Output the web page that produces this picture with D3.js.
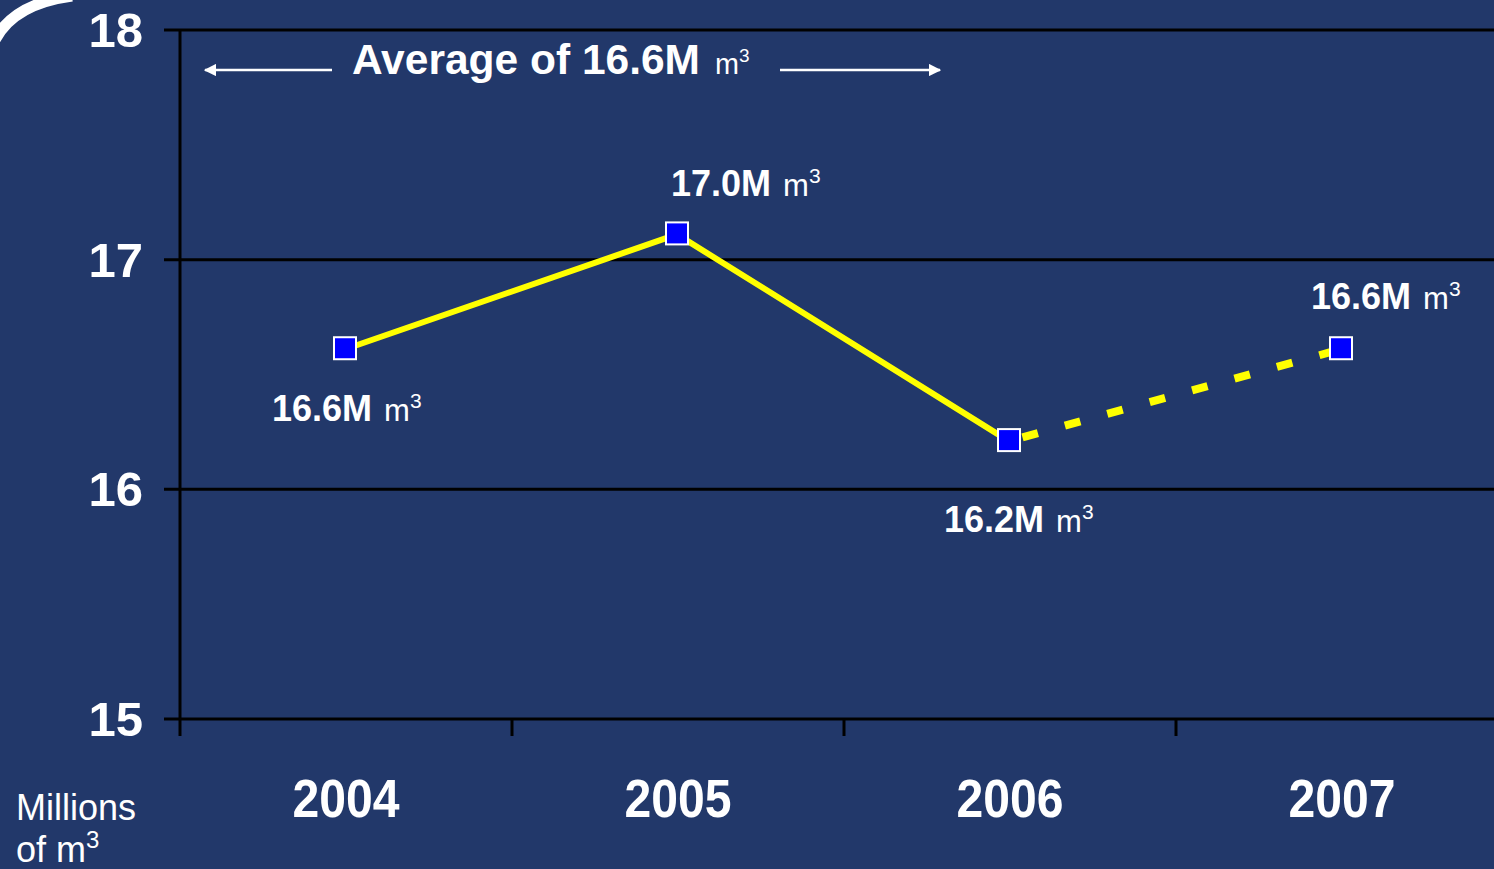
<!DOCTYPE html>
<html>
<head>
<meta charset="utf-8">
<script src="https://cdn.jsdelivr.net/npm/d3@7"></script>
<style>
html,body{margin:0;padding:0;background:#22386a;}
svg{display:block;}
text{fill:#fff;}
</style>
</head>
<body>
<svg id="chart" width="1494" height="869"></svg>
<script>
const years = ["2004", "2005", "2006", "2007"];
const values = [16.61, 17.11, 16.21, 16.61];
const valueLabels = ["16.6M", "17.0M", "16.2M", "16.6M"];
const yTicks = [15, 16, 17, 18];
const averageLabel = "Average of 16.6M";
const unitLabel = "m";

// label placement relative to each point (style, not data)
const labelOffsets = [[-73, 72], [-6, -38], [-65, 91], [-30, -40]];

const W = 1494, H = 869;
const svg = d3.select("#chart");
svg.append("rect").attr("width", W).attr("height", H).attr("fill", "#22386a");

// decorative logo arc top-left
svg.append("path").attr("d", "M -6 42 Q 12 4 72 -4")
  .attr("fill", "none").attr("stroke", "#fff").attr("stroke-width", 11);

const x = d3.scaleBand().domain(years).range([180, 1508]);
const y = d3.scaleLinear().domain([15, 18]).range([719, 30]);

// gridlines
svg.append("g").selectAll("line").data(yTicks).join("line")
  .attr("x1", 164).attr("x2", W)
  .attr("y1", d => y(d)).attr("y2", d => y(d))
  .attr("stroke", "#000").attr("stroke-width", 3);

// vertical axis
svg.append("line").attr("x1", 180).attr("x2", 180).attr("y1", y(18)).attr("y2", 736)
  .attr("stroke", "#000").attr("stroke-width", 3);

// x ticks (between bands)
svg.append("g").selectAll("line").data(years.slice(1)).join("line")
  .attr("x1", d => x(d)).attr("x2", d => x(d))
  .attr("y1", y(15)).attr("y2", 736)
  .attr("stroke", "#000").attr("stroke-width", 3);

// y tick labels
svg.append("g").selectAll("text").data(yTicks).join("text")
  .attr("x", 143).attr("y", d => y(d) + 17)
  .attr("text-anchor", "end")
  .attr("font-family", "Liberation Sans, Arial, sans-serif")
  .attr("font-weight", "bold").attr("font-size", 49)
  .text(d => d);

// x labels (condensed)
svg.append("g").selectAll("text").data(years).join("text")
  .attr("x", d => x(d) + x.bandwidth() / 2 - 107 / 2).attr("y", 817)
  .attr("font-family", "Liberation Sans, Arial, sans-serif")
  .attr("font-weight", "bold").attr("font-size", 54)
  .attr("textLength", 107).attr("lengthAdjust", "spacingAndGlyphs")
  .text(d => d);

// axis title
const at = svg.append("text").attr("font-family", "Liberation Sans, Arial, sans-serif")
  .attr("font-size", 36);
at.append("tspan").attr("x", 16).attr("y", 820).text("Millions");
at.append("tspan").attr("x", 16).attr("y", 862).text("of m");
at.append("tspan").attr("font-size", 24).attr("dy", -14).text("3");

const pts = years.map((yr, i) => ({ yr, v: values[i], cx: x(yr) + x.bandwidth() / 2 - 1, cy: y(values[i]) }));

// solid line 2004-2006
const line = d3.line().x(d => d.cx).y(d => d.cy);
svg.append("path").datum(pts.slice(0, 3)).attr("d", line)
  .attr("fill", "none").attr("stroke", "#ffff00").attr("stroke-width", 6);
// dashed line 2006-2007
svg.append("path").datum(pts.slice(2, 4)).attr("d", line)
  .attr("fill", "none").attr("stroke", "#ffff00").attr("stroke-width", 8)
  .attr("stroke-dasharray", "16 28").attr("stroke-dashoffset", -14);

// markers
svg.append("g").selectAll("rect").data(pts).join("rect")
  .attr("x", d => d.cx - 11).attr("y", d => d.cy - 12)
  .attr("width", 22).attr("height", 22)
  .attr("fill", "#0000ff").attr("stroke", "#fff").attr("stroke-width", 2);

// value labels
const vl = svg.append("g").selectAll("text").data(pts).join("text")
  .attr("x", (d, i) => d.cx + labelOffsets[i][0])
  .attr("y", (d, i) => d.cy + labelOffsets[i][1])
  .attr("font-family", "Liberation Sans, Arial, sans-serif");
vl.append("tspan").attr("font-weight", "bold").attr("font-size", 36).text((d, i) => valueLabels[i]);
vl.append("tspan").attr("font-size", 31).attr("dx", 12).text(unitLabel);
vl.append("tspan").attr("font-size", 21).attr("dy", -13).text("3");

// average annotation (condensed)
const av = svg.append("text").attr("x", 352).attr("y", 74)
  .attr("font-family", "Liberation Sans, Arial, sans-serif");
av.append("tspan").attr("font-weight", "bold").attr("font-size", 42)
  .attr("textLength", 348).attr("lengthAdjust", "spacingAndGlyphs").text(averageLabel);
av.append("tspan").attr("x", 715).attr("font-size", 30)
  .attr("textLength", 24).attr("lengthAdjust", "spacingAndGlyphs").text(unitLabel);
av.append("tspan").attr("font-size", 19).attr("dy", -12).text("3");

const defs = svg.append("defs");
defs.append("marker").attr("id", "ah").attr("viewBox", "0 0 10 10")
  .attr("refX", 9).attr("refY", 5).attr("markerWidth", 5).attr("markerHeight", 5)
  .attr("markerUnits", "strokeWidth").attr("orient", "auto")
  .append("path").attr("d", "M0,0 L10,5 L0,10 z").attr("fill", "#fff");

svg.append("line").attr("x1", 332).attr("x2", 205).attr("y1", 70).attr("y2", 70)
  .attr("stroke", "#fff").attr("stroke-width", 2.5).attr("marker-end", "url(#ah)");
svg.append("line").attr("x1", 780).attr("x2", 940).attr("y1", 70).attr("y2", 70)
  .attr("stroke", "#fff").attr("stroke-width", 2.5).attr("marker-end", "url(#ah)");
</script>
</body>
</html>
